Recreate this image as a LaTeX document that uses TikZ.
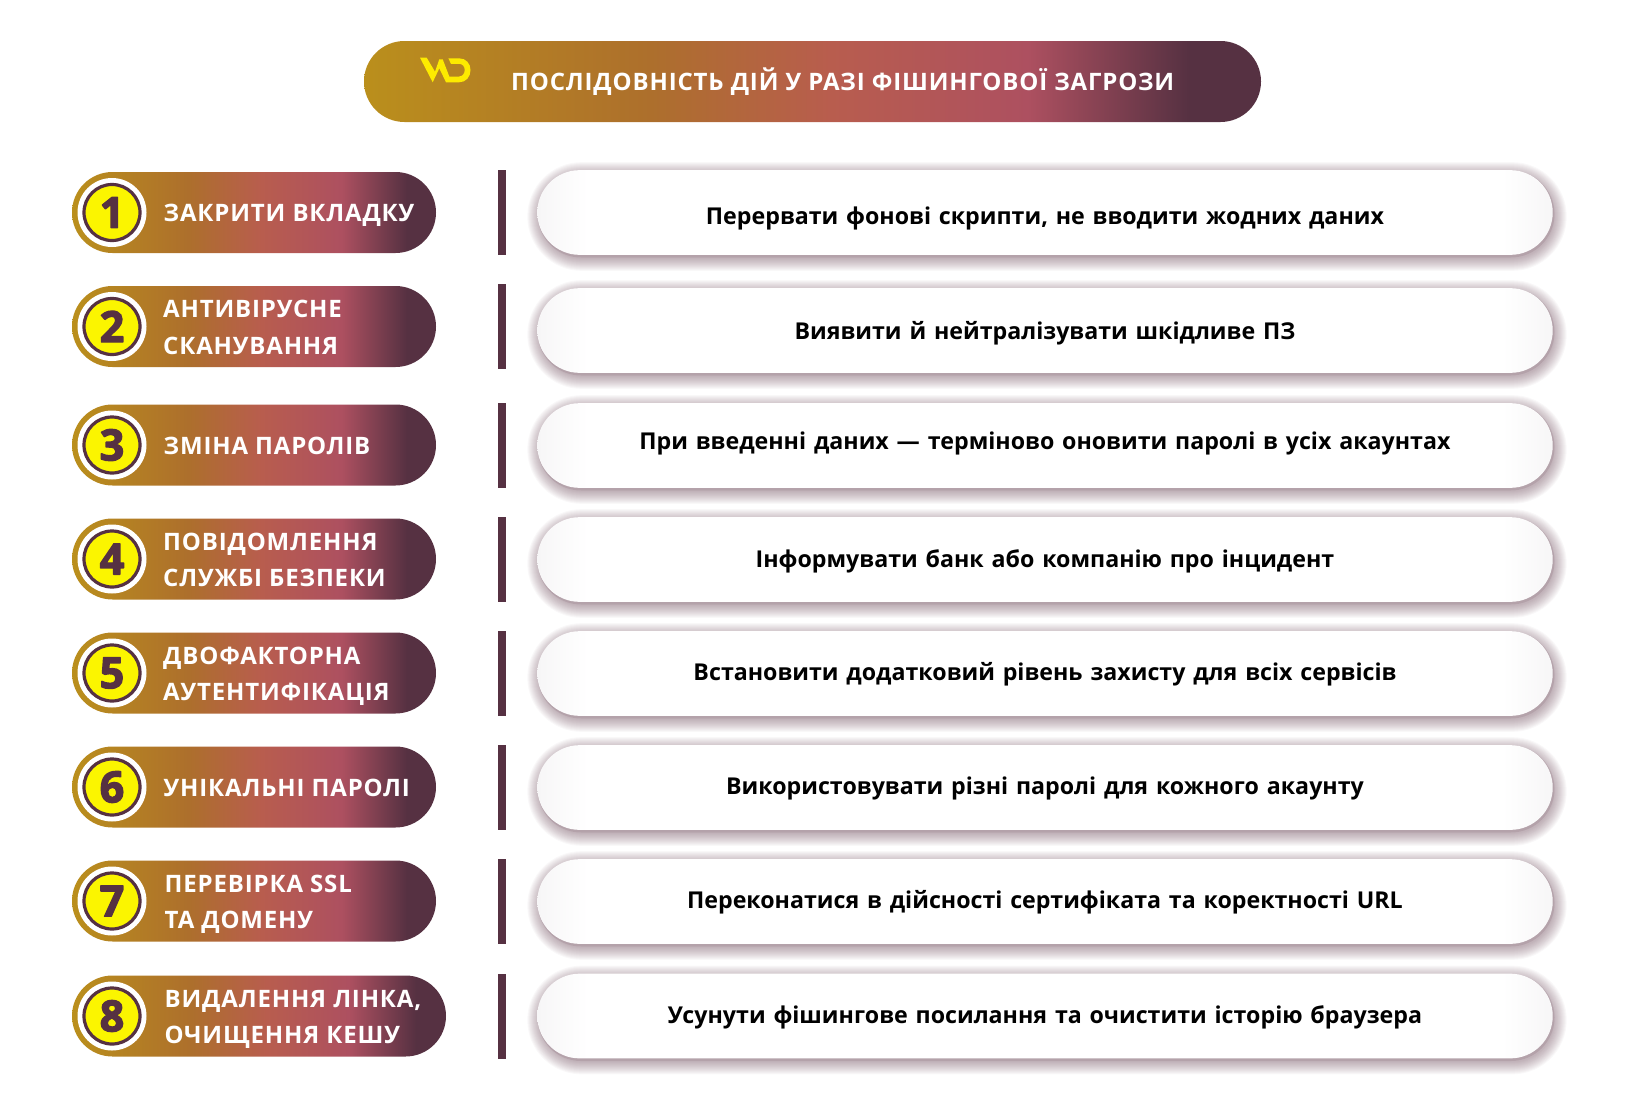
\documentclass[tikz,border=0pt]{standalone}
\usepackage{fontspec}
\usetikzlibrary{shapes.misc}
\setmainfont{Open Sans}
\newfontfamily\labelfont{Open Sans}[LetterSpace=3.5]
\newfontfamily\descfont{Open Sans}[WordSpace=1.3]
\newfontfamily\numfont{Open Sans}[BoldFeatures={FakeBold=3}]
\definecolor{plum}{HTML}{563142}
\definecolor{gold}{HTML}{BA8F1C}
\definecolor{ochre}{HTML}{AD6F2C}
\definecolor{terra}{HTML}{B85D4E}
\definecolor{rose}{HTML}{AD5060}
\definecolor{shadeplum}{HTML}{5A3345}
\definecolor{numyellow}{HTML}{FBF500}
\definecolor{logoyellow}{HTML}{FDEB00}
\definecolor{facegrey}{HTML}{F7F6F7}
\pgfdeclarehorizontalshading{brandgrad}{100bp}{color(0bp)=(gold); color(25bp)=(gold); color(41bp)=(ochre); color(51bp)=(terra); color(62bp)=(rose); color(71bp)=(plum); color(100bp)=(plum)}
\pgfdeclarehorizontalshading{facegrad}{100bp}{color(0bp)=(facegrey); color(25bp)=(facegrey); color(27.5bp)=(white); color(72.5bp)=(white); color(75bp)=(facegrey); color(100bp)=(facegrey)}
\tikzset{
  pillbase/.style={rounded rectangle, inner sep=0pt, outer sep=0pt, minimum height=81pt},
  brandpill/.style={pillbase, shading=brandgrad},
  facepill/.style={rounded rectangle, inner sep=0pt, outer sep=0pt, minimum width=1015.4pt, minimum height=84.7pt, shading=facegrad},
  shadowpill/.style={rounded rectangle, inner sep=0pt, outer sep=0pt, fill=shadeplum, fill opacity=.035},
  contactpill/.style={rounded rectangle, inner sep=0pt, outer sep=0pt, fill=shadeplum, fill opacity=.13},
  divider/.style={fill=plum, inner sep=0pt, outer sep=0pt, minimum width=8pt, minimum height=85pt},
  haloring/.style={circle, fill=white, inner sep=0pt, outer sep=0pt, minimum size=69pt},
  numdisc/.style={circle, fill=numyellow, draw=plum, line width=3.2pt, inner sep=0pt, outer sep=0pt, minimum size=56pt,
     text=plum, font=\numfont\bfseries\fontsize{43}{43}\selectfont},
  steplabel/.style={anchor=west, align=left, text=white, inner sep=0pt, font=\labelfont\bfseries\fontsize{24}{36.2}\selectfont},
  desctext/.style={anchor=base, text=black, inner sep=0pt, font=\descfont\bfseries\fontsize{23.2}{28}\selectfont},
  titletext/.style={anchor=base west, text=white, inner sep=0pt, font=\labelfont\bfseries\fontsize{24}{28}\selectfont}
}
% #1 id, #2 left centre y, #3 right centre y, #4 text baseline y, #5 label position, #6 pill right edge, #7 label, #8 description
\newcommand{\steprow}[8]{%
  \pgfmathsetmacro{\pillw}{#6-72}%
  \node[brandpill, minimum width=\pillw pt] (pill#1) at ({(72+#6)/2},#2) {};
  \node[haloring] (halo#1) at (112,#2) {};
  \node[numdisc] (num#1) at (112,#2) {#1};
  \node[steplabel] (label#1) at (#5) {#7};
  \node[divider] (bar#1) at (502,#2) {};
  \foreach \s in {12,11,10,9,8,7,6,5,4,3,2,1,0}{
    \node[shadowpill, minimum width={1015.4pt+2*\s pt}, minimum height={84.7pt+2*\s pt}] at (1047,{#3+4}) {};
  }
  \node[contactpill, minimum width=1017pt, minimum height=87pt] at (1046,{#3+1.5}) {};
  \node[facepill] (face#1) at (1045,#3) {};
  \node[desctext] (desc#1) at (1045,#4) {#8};
}
\begin{document}
\begin{tikzpicture}[x=1pt,y=-1pt,line join=round]
\useasboundingbox (0,0) rectangle (1625,1100);
\node[brandpill, minimum width=897pt, minimum height=81pt] (title) at (812.5,81.5) {};
\fill[logoyellow] (420,57.7) -- (426.7,57.7) -- (435,71.7) -- (439.3,59.3) -- (442.7,59.3) -- (449.3,76.5) -- (459,76.5)
  .. controls (462.5,76.5) and (464.7,73.5) .. (464.7,70) .. controls (464.7,66.5) and (462.5,63.8) .. (459,63.8)
  -- (451,63.8) -- (448.3,58.3) -- (459,58.3) .. controls (466,58.3) and (470.5,63.5) .. (470.5,70)
  .. controls (470.5,77) and (466,82.3) .. (459,82.3) -- (446,82.3) -- (439.3,68.3) -- (432.7,82.3) -- cycle;
\node[titletext] (titlelabel) at (511,90) {ПОСЛІДОВНІСТЬ ДІЙ У РАЗІ ФІШИНГОВОЇ ЗАГРОЗИ};
\steprow{1}{212.5}{212.5}{224.5}{163.5,215.5}{436}{ЗАКРИТИ ВКЛАДКУ}{Перервати фонові скрипти, не вводити жодних даних}
\steprow{2}{326.5}{330.5}{339.5}{163,327.5}{436}{АНТИВІРУСНЕ\\СКАНУВАННЯ}{Виявити й нейтралізувати шкідливе ПЗ}
\steprow{3}{445}{445.5}{449}{163.5,446}{436}{ЗМІНА ПАРОЛІВ}{При введенні даних — терміново оновити паролі в усіх акаунтах}
\steprow{4}{559}{559.5}{567.5}{163,560}{436}{ПОВІДОМЛЕННЯ\\СЛУЖБІ БЕЗПЕКИ}{Інформувати банк або компанію про інцидент}
\steprow{5}{673}{673.5}{680.5}{163,676}{436}{ДВОФАКТОРНА\\АУТЕНТИФІКАЦІЯ}{Встановити додатковий рівень захисту для всіх сервісів}
\steprow{6}{787}{787.5}{794.5}{163.5,788}{436}{УНІКАЛЬНІ ПАРОЛІ}{Використовувати різні паролі для кожного акаунту}
\steprow{7}{901}{901.5}{908.5}{164.5,904.5}{436}{ПЕРЕВІРКА SSL\\ТА ДОМЕНУ}{Переконатися в дійсності сертифіката та коректності URL}
\steprow{8}{1016}{1016}{1023.5}{164.5,1019}{446}{ВИДАЛЕННЯ ЛІНКА,\\ОЧИЩЕННЯ КЕШУ}{Усунути фішингове посилання та очистити історію браузера}
\end{tikzpicture}
\end{document}
